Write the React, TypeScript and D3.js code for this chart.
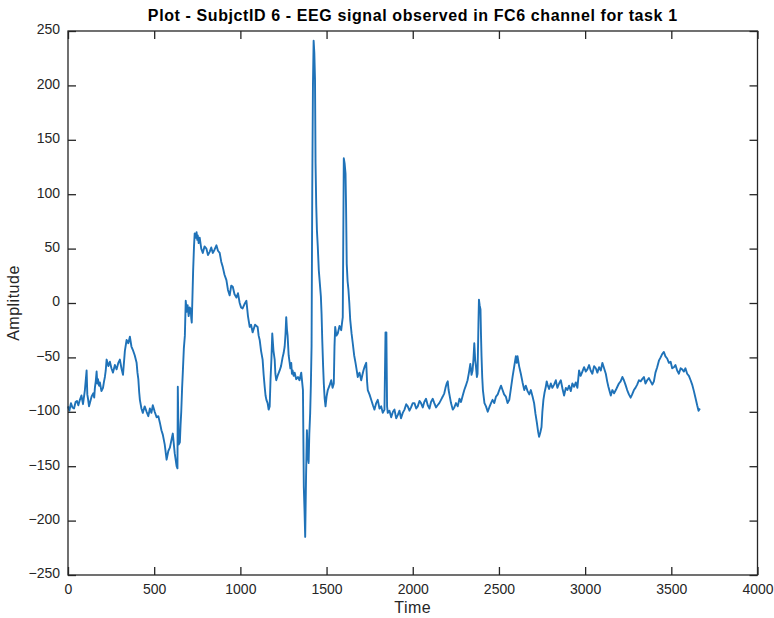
import { useRef, useEffect } from 'react'
import * as d3 from 'd3'

const TITLE = 'Plot - SubjctID 6 - EEG signal observed in FC6 channel for task 1'
const X_LABEL = 'Time'
const Y_LABEL = 'Amplitude'
const X_TICKS = [0, 500, 1000, 1500, 2000, 2500, 3000, 3500, 4000]
const Y_TICKS = [-250, -200, -150, -100, -50, 0, 50, 100, 150, 200, 250]

// sample index of each reading
const time = [
  0, 8, 17, 26, 35, 44, 52, 60, 69, 78, 87, 98, 108, 112, 116, 122, 127, 137, 147, 152,
  156, 161, 166, 170, 174, 180, 185, 194, 203, 209, 214, 219, 224, 234, 243, 252, 261, 272, 282, 292,
  301, 310, 319, 330, 340, 350, 359, 368, 376, 387, 398, 403, 408, 413, 417, 426, 434, 445, 456, 466,
  475, 484, 492, 503, 514, 524, 533, 542, 550, 561, 572, 582, 591, 600, 608, 619, 630, 635, 637, 642,
  649, 653, 657, 662, 666, 672, 678, 683, 689, 694, 700, 706, 712, 715, 718, 722, 726, 731, 735, 740,
  746, 750, 753, 758, 764, 773, 782, 792, 803, 812, 822, 831, 840, 850, 861, 870, 880, 889, 898, 908,
  919, 928, 938, 947, 956, 966, 977, 986, 996, 1004, 1013, 1024, 1035, 1044, 1054, 1062, 1071, 1085, 1100, 1106,
  1112, 1120, 1129, 1135, 1141, 1146, 1151, 1158, 1164, 1170, 1175, 1180, 1185, 1192, 1199, 1203, 1208, 1218, 1228, 1236,
  1245, 1251, 1257, 1262, 1266, 1270, 1274, 1280, 1286, 1290, 1295, 1299, 1303, 1309, 1315, 1324, 1334, 1343, 1353, 1358,
  1363, 1368, 1372, 1376, 1381, 1386, 1391, 1396, 1400, 1405, 1409, 1413, 1417, 1421, 1425, 1429, 1433, 1436, 1440, 1444,
  1449, 1455, 1461, 1467, 1471, 1475, 1480, 1484, 1489, 1494, 1500, 1507, 1517, 1527, 1535, 1542, 1546, 1550, 1557, 1565,
  1575, 1585, 1590, 1594, 1600, 1605, 1610, 1613, 1617, 1622, 1627, 1632, 1637, 1645, 1652, 1660, 1668, 1675, 1681, 1691,
  1701, 1708, 1714, 1722, 1730, 1735, 1739, 1749, 1759, 1769, 1778, 1788, 1797, 1807, 1817, 1826, 1836, 1842, 1847, 1851,
  1855, 1865, 1875, 1885, 1894, 1904, 1913, 1923, 1932, 1942, 1952, 1962, 1971, 1981, 1990, 2000, 2010, 2020, 2029, 2039,
  2048, 2058, 2067, 2077, 2087, 2097, 2106, 2116, 2125, 2135, 2144, 2154, 2164, 2174, 2183, 2190, 2197, 2203, 2208, 2215,
  2222, 2232, 2241, 2251, 2261, 2271, 2280, 2290, 2299, 2308, 2318, 2326, 2334, 2341, 2347, 2352, 2357, 2362, 2367, 2372,
  2376, 2381, 2384, 2388, 2393, 2396, 2399, 2403, 2407, 2416, 2425, 2435, 2444, 2454, 2463, 2473, 2483, 2493, 2502, 2512,
  2521, 2530, 2540, 2550, 2560, 2570, 2579, 2589, 2598, 2603, 2608, 2617, 2627, 2637, 2647, 2656, 2666, 2676, 2685, 2695,
  2704, 2712, 2720, 2727, 2733, 2740, 2747, 2752, 2758, 2765, 2772, 2777, 2782, 2791, 2801, 2810, 2820, 2830, 2839, 2849,
  2859, 2869, 2878, 2888, 2897, 2907, 2917, 2926, 2936, 2946, 2955, 2960, 2965, 2974, 2984, 2994, 3004, 3013, 3023, 3032,
  3042, 3052, 3062, 3071, 3081, 3091, 3100, 3110, 3120, 3128, 3135, 3142, 3149, 3158, 3168, 3178, 3187, 3196, 3206, 3216,
  3225, 3234, 3244, 3254, 3264, 3273, 3283, 3292, 3302, 3312, 3322, 3331, 3341, 3350, 3360, 3370, 3380, 3390, 3399, 3408,
  3418, 3428, 3438, 3447, 3457, 3466, 3476, 3486, 3496, 3505, 3515, 3524, 3534, 3544, 3554, 3563, 3573, 3582, 3592, 3602,
  3612, 3621, 3631, 3640, 3650, 3658, 3666,
]

// FC6 amplitude at each reading
const amplitude = [
  -95, -99, -92, -96, -97, -91, -90, -94, -89, -85, -93, -80, -62, -84, -88, -95, -92, -86, -83, -87,
  -78, -72, -63, -74, -70, -76, -73, -81, -78, -72, -68, -62, -52, -58, -54, -60, -64, -57, -61, -55,
  -52, -60, -66, -44, -34, -37, -31, -40, -43, -48, -55, -64, -70, -82, -89, -97, -101, -95, -100, -104,
  -97, -101, -94, -100, -105, -104, -110, -117, -121, -130, -144, -136, -133, -126, -120, -138, -150, -152, -77, -130,
  -128, -112, -100, -78, -64, -42, -30, 2, -8, -2, -12, -4, -6, -14, -18, 6, 30, 52, 64, 60,
  65, 58, 62, 55, 60, 50, 46, 52, 50, 44, 47, 51, 46, 49, 53, 48, 46, 38, 33, 26,
  21, 12, 7, 16, 15, 8, 5, 9, 0, -4, -5, -1, 2, -12, -22, -20, -27, -20, -22, -30,
  -34, -44, -52, -66, -77, -85, -89, -92, -98, -95, -70, -52, -28, -44, -52, -65, -71, -66, -62, -58,
  -50, -46, -40, -28, -13, -24, -30, -48, -55, -60, -55, -65, -62, -67, -64, -70, -68, -71, -64, -72,
  -80, -169, -190, -215, -160, -117, -140, -147, -120, -101, -75, -40, 104, 200, 241, 230, 205, 129, 90, 67,
  52, 30, 18, 6, -10, -34, -58, -74, -88, -95, -86, -80, -76, -71, -78, -74, -40, -22, -30, -28,
  -21, -25, -18, -13, 133, 128, 119, 90, 36, 20, 12, 0, -15, -28, -37, -48, -55, -62, -68, -64,
  -71, -66, -62, -58, -55, -72, -80, -84, -89, -94, -98, -92, -89, -97, -95, -101, -98, -27, -27, -95,
  -101, -99, -105, -100, -98, -106, -103, -99, -106, -101, -98, -93, -95, -99, -96, -92, -92, -97, -95, -90,
  -92, -96, -91, -88, -94, -97, -91, -88, -92, -96, -94, -92, -89, -86, -83, -78, -74, -72, -80, -86,
  -92, -98, -96, -92, -95, -88, -91, -85, -80, -76, -71, -64, -56, -66, -62, -52, -37, -52, -59, -68,
  -65, -20, 3, -2, -6, -30, -49, -68, -80, -92, -95, -100, -96, -92, -89, -92, -86, -84, -80, -76,
  -80, -84, -86, -92, -89, -78, -68, -58, -49, -55, -49, -58, -65, -73, -80, -76, -81, -84, -80, -86,
  -92, -102, -110, -118, -123, -119, -114, -100, -89, -82, -77, -72, -75, -79, -74, -78, -75, -71, -78, -74,
  -71, -79, -85, -78, -80, -76, -81, -74, -77, -73, -78, -70, -62, -67, -63, -59, -63, -61, -57, -62,
  -65, -58, -60, -64, -59, -62, -55, -60, -65, -72, -77, -81, -85, -80, -83, -80, -77, -74, -72, -68,
  -71, -75, -80, -84, -87, -84, -80, -78, -75, -71, -72, -70, -68, -74, -71, -69, -72, -75, -72, -64,
  -59, -53, -50, -47, -45, -49, -51, -55, -54, -60, -59, -57, -62, -65, -60, -61, -63, -60, -65, -67,
  -71, -75, -81, -87, -94, -99, -97,
]

const W = 774
const H = 618
const margin = { left: 68, right: 16.5, top: 31, bottom: 43 }
const FONT = '"Liberation Sans", Arial, Helvetica, sans-serif'
const INK = '#262626'

export default function App() {
  const svgRef = useRef<SVGSVGElement>(null)

  useEffect(() => {
    if (!svgRef.current) return
    const svg = d3.select(svgRef.current)
    svg.selectAll('*').remove()

    const x = d3.scaleLinear().domain([0, 4000]).range([margin.left, W - margin.right])
    const y = d3.scaleLinear().domain([-250, 250]).range([H - margin.bottom, margin.top])

    svg.append('rect').attr('width', W).attr('height', H).attr('fill', '#fff')

    const pts = time.map((t, i) => [t, amplitude[i]] as [number, number])
    const line = d3
      .line<[number, number]>()
      .x((d) => x(d[0]))
      .y((d) => y(d[1]))

    svg
      .append('path')
      .datum(pts)
      .attr('d', line)
      .attr('fill', 'none')
      .attr('stroke', '#1f72b8')
      .attr('stroke-width', 1.9)
      .attr('stroke-linejoin', 'round')

    const styleAxis = (g: any, showText: boolean) => {
      g.select('.domain').remove()
      g.selectAll('line').attr('stroke', INK).attr('stroke-width', 1.3)
      g.selectAll('text')
        .attr('fill', INK)
        .attr('font-family', FONT)
        .attr('font-size', 14)
        .style('display', showText ? null : 'none')
    }

    const bottom = H - margin.bottom
    const right = W - margin.right

    svg
      .append('g')
      .attr('transform', `translate(0,${bottom})`)
      .call(d3.axisBottom(x).tickValues(X_TICKS).tickSizeInner(-8).tickSizeOuter(0).tickPadding(9).tickFormat(d3.format('d')))
      .call((g) => styleAxis(g, true))

    svg
      .append('g')
      .attr('transform', `translate(0,${margin.top})`)
      .call(d3.axisTop(x).tickValues(X_TICKS).tickSizeInner(-8).tickSizeOuter(0))
      .call((g) => styleAxis(g, false))

    svg
      .append('g')
      .attr('transform', `translate(${margin.left},0)`)
      .call(d3.axisLeft(y).tickValues(Y_TICKS).tickSizeInner(-8).tickSizeOuter(0).tickPadding(8).tickFormat(d3.format('d')))
      .call((g) => styleAxis(g, true))
      .selectAll('text')
      .attr('dy', '0.2em')

    svg
      .append('g')
      .attr('transform', `translate(${right},0)`)
      .call(d3.axisRight(y).tickValues(Y_TICKS).tickSizeInner(-8).tickSizeOuter(0))
      .call((g) => styleAxis(g, false))

    // box
    svg
      .append('rect')
      .attr('x', margin.left)
      .attr('y', margin.top)
      .attr('width', right - margin.left)
      .attr('height', bottom - margin.top)
      .attr('fill', 'none')
      .attr('stroke', INK)
      .attr('stroke-width', 1.3)

    svg
      .append('text')
      .attr('x', (margin.left + right) / 2)
      .attr('y', 21)
      .attr('text-anchor', 'middle')
      .attr('font-family', FONT)
      .attr('font-weight', 'bold')
      .attr('font-size', 16)
      .attr('letter-spacing', 0.6)
      .attr('fill', '#000')
      .text(TITLE)

    svg
      .append('text')
      .attr('x', (margin.left + right) / 2)
      .attr('y', 613)
      .attr('text-anchor', 'middle')
      .attr('font-family', FONT)
      .attr('font-size', 16)
      .attr('letter-spacing', 0.5)
      .attr('fill', INK)
      .text(X_LABEL)

    svg
      .append('text')
      .attr('transform', `translate(19,${(margin.top + bottom) / 2}) rotate(-90)`)
      .attr('text-anchor', 'middle')
      .attr('font-family', FONT)
      .attr('font-size', 16)
      .attr('letter-spacing', 0.5)
      .attr('fill', INK)
      .text(Y_LABEL)
  }, [])

  return (
    <div style={{ position: 'fixed', left: 0, top: 0 }}>
      <svg ref={svgRef} width={W} height={H} style={{ display: 'block' }} />
    </div>
  )
}
